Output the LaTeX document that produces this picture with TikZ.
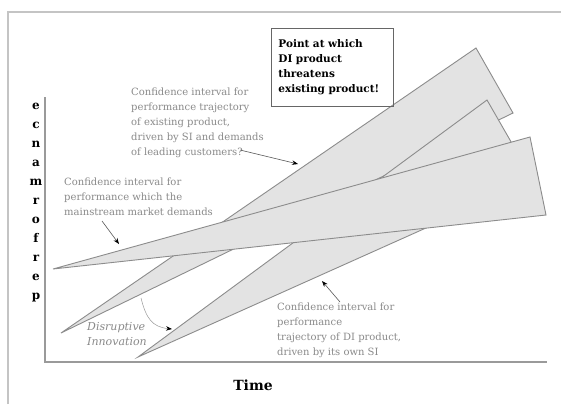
\documentclass[tikz,border=0pt]{standalone}
\usepackage{fontspec}
\setmainfont{DejaVu Serif}
\usetikzlibrary{arrows.meta}
\definecolor{wedgefill}{HTML}{E3E3E3}
\definecolor{wedgeline}{HTML}{8C8C8C}
\definecolor{txtgray}{HTML}{8A8A8A}
\definecolor{framegray}{HTML}{C4C4C4}
\definecolor{axisgray}{HTML}{9A9A9A}
\begin{document}
\begin{tikzpicture}[x=1pt,y=-1pt,
  wedge/.style={fill=wedgefill,draw=wedgeline,line width=0.9pt,line join=miter},
  note/.style={text=txtgray,font=\fontsize{10}{15}\selectfont,align=left,inner sep=0pt,anchor=north west},
  pointer/.style={draw=black!65,line width=0.6pt,-{Stealth[length=6pt,width=4.5pt,black]}},
  boxnote/.style={draw=black!60,line width=0.8pt,font=\bfseries\fontsize{10.5}{15}\selectfont,align=left,
    anchor=north west,text width=108pt,inner xsep=7pt,inner ysep=0pt,minimum height=78pt},
  axislabel/.style={font=\bfseries\fontsize{12}{19}\selectfont,align=center,inner sep=0pt}
]
\useasboundingbox (0,0) rectangle (561,404);
\fill[white] (0,0) rectangle (561,404);
\draw[framegray,line width=2pt] (8,404) -- (8,12) -- (561,12);
% axes
\coordinate (ytop) at (45,97);
\coordinate (origin) at (45,362);
\coordinate (xend) at (547,362);
\draw[axisgray,line width=1.2pt] (ytop) -- (origin) -- (xend);
% wedges
\coordinate (w2a) at (61,333); \coordinate (w2b) at (476,48); \coordinate (w2c) at (513,113);
\coordinate (w3a) at (138,357); \coordinate (w3b) at (487,100); \coordinate (w3c) at (533,180);
\coordinate (w1a) at (53,269); \coordinate (w1b) at (530,137); \coordinate (w1c) at (546,215);
\draw[wedge] (w2a) -- (w2b) -- (w2c) -- cycle;
\draw[wedge] (w3a) -- (w3b) -- (w3c) -- cycle;
\draw[wedge] (w1a) -- (w1b) -- (w1c) -- cycle;
% texts
\node[boxnote] (box) at (271,28) {Point at which\\DI product\\threatens\\existing product!};
\node[note] (n1) at (131,88) {Confidence interval for\\performance trajectory\\of existing product,\\driven by SI and demands\\of leading customers?};
\node[note] (n2) at (64,178) {Confidence interval for\\performance which the\\mainstream market demands};
\node[note] (n3) at (277,303) {Confidence interval for\\performance\\trajectory of DI product,\\driven by its own SI};
\node[note,font=\itshape\fontsize{11}{15}\selectfont] (n4) at (87,322) {Disruptive\\Innovation};
\node[axislabel] (ylab) at (36,203) {e\\c\\n\\a\\m\\r\\o\\f\\r\\e\\p};
\node[font=\bfseries\fontsize{14}{15}\selectfont,inner sep=0pt] (xlab) at (253,385) {Time};
% pointers
\coordinate (s1) at (240,150); \coordinate (t1) at (298,164);
\coordinate (s2) at (102,221); \coordinate (t2) at (119,244);
\coordinate (s3) at (340,302); \coordinate (t3) at (322,281);
\coordinate (s4) at (141,298); \coordinate (t4) at (172,329);
\draw[pointer] (s1) -- (t1);
\draw[pointer] (s2) -- (t2);
\draw[pointer] (s3) -- (t3);
\draw[pointer,draw=black!40,line width=0.5pt] (s4) .. controls (146,318) and (152,327) .. (t4);
\end{tikzpicture}
\end{document}
